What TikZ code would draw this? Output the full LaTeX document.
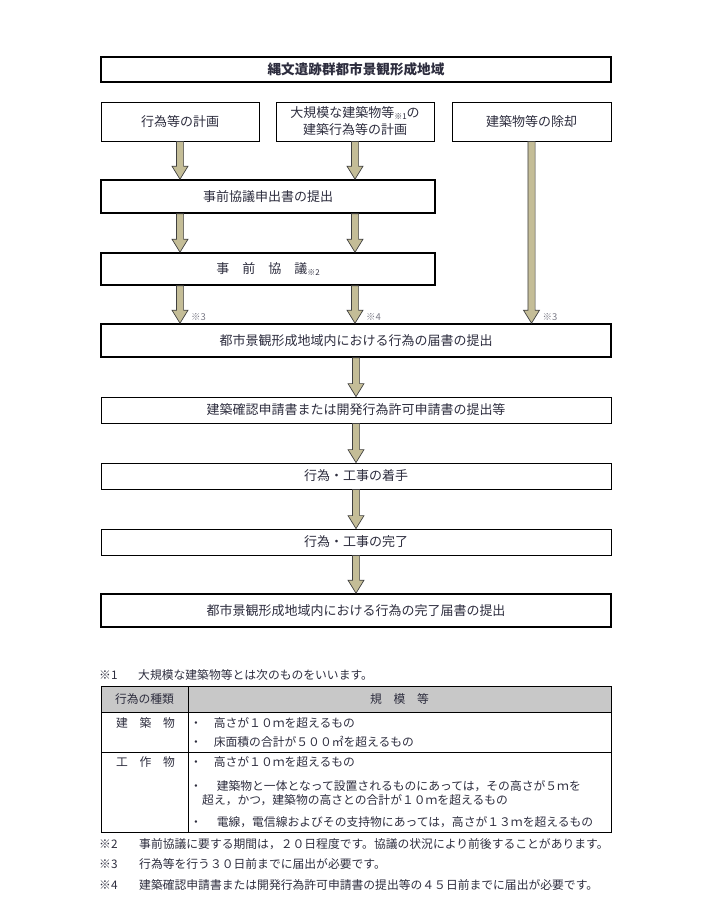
\documentclass[tikz,border=0pt]{standalone}
\usepackage{fontspec}
\usepackage{tikz}
\usetikzlibrary{calc}
\newfontfamily\jpfont{Noto Sans CJK JP}
\definecolor{inkcol}{RGB}{45,45,62}
\definecolor{markcol}{RGB}{120,120,132}
\definecolor{arrowfill}{RGB}{196,189,151}
\definecolor{headgray}{RGB}{200,200,200}
\newcommand{\boxfont}{\jpfont\fontsize{13}{17}\selectfont}
\newcommand{\tabfont}{\jpfont\fontsize{11.8}{14}\selectfont}
\newcommand{\smallmark}[1]{\raisebox{-2pt}{\fontsize{8}{8}\selectfont #1}}
\newcommand{\fatarrow}[2]{\draw[fatarrow] let \p1=#1, \p2=#2 in
  (\x1-3.6pt,\y1) -- (\x1-3.6pt,\y2+13pt) -- (\x1-8pt,\y2+13pt) -- (\x1,\y2)
  -- (\x1+8pt,\y2+13pt) -- (\x1+3.6pt,\y2+13pt) -- (\x1+3.6pt,\y1) -- cycle;}

\begin{document}
\begin{tikzpicture}[x=1pt,y=-1pt]
\tikzstyle{every node}+=[inner sep=0pt, text=inkcol, font=\boxfont]
\tikzstyle{thinbox}=[draw=black, line width=0.8pt]
\tikzstyle{thickbox}=[draw=black, line width=1.6pt]
\tikzstyle{fatarrow}=[draw=black!75, fill=arrowfill, line width=0.7pt, line join=miter]
\tikzstyle{marklbl}=[anchor=west, text=markcol, font=\jpfont\fontsize{9.5}{10}\selectfont]
\tikzstyle{tabtext}=[font=\tabfont]
\useasboundingbox (0,0) rectangle (720,919);
\node [thickbox, minimum width=510pt, minimum height=25pt, font=\jpfont\fontsize{13.6}{17}\selectfont\bfseries] (title) at (356,69.5) {縄文遺跡群都市景観形成地域};
\node [thinbox, minimum width=158pt, minimum height=39pt] (plan) at (180,121.5) {行為等の計画};
\node [thinbox, minimum width=158pt, minimum height=39pt, align=center] (big) at (355,121.5) {大規模な建築物等\smallmark{※1}の\\建築行為等の計画};
\node [thinbox, minimum width=159pt, minimum height=39pt] (demol) at (531.5,121.5) {建築物等の除却};
\node [thickbox, minimum width=334pt, minimum height=33pt] (apply) at (268,196.5) {事前協議申出書の提出};
\node [thickbox, minimum width=334pt, minimum height=32pt] (consult) at (268,269) {事　前　協　議\smallmark{※2}};
\node [thickbox, minimum width=510pt, minimum height=33pt] (notify) at (356,340.5) {都市景観形成地域内における行為の届書の提出};
\node [thinbox, minimum width=510pt, minimum height=26pt] (confirm) at (356,410) {建築確認申請書または開発行為許可申請書の提出等};
\node [thinbox, minimum width=510pt, minimum height=26pt] (start) at (356,476) {行為・工事の着手};
\node [thinbox, minimum width=510pt, minimum height=26pt] (finish) at (356,542) {行為・工事の完了};
\node [thickbox, minimum width=510pt, minimum height=33pt] (report) at (356,610.5) {都市景観形成地域内における行為の完了届書の提出};
\fatarrow{(plan.south)}{(plan.south |- apply.north)}
\fatarrow{(big.south)}{(big.south |- apply.north)}
\fatarrow{(plan.south |- apply.south)}{(plan.south |- consult.north)}
\fatarrow{(big.south |- apply.south)}{(big.south |- consult.north)}
\fatarrow{(plan.south |- consult.south)}{(plan.south |- notify.north)}
\fatarrow{(big.south |- consult.south)}{(big.south |- notify.north)}
\fatarrow{(demol.south)}{(demol.south |- notify.north)}
\fatarrow{(notify.south)}{(confirm.north)}
\fatarrow{(confirm.south)}{(start.north)}
\fatarrow{(start.south)}{(finish.north)}
\fatarrow{(finish.south)}{(report.north)}
\node [marklbl] (mka) at ([xshift=11pt,yshift=6pt]plan.south |- notify.north) {※3};
\node [marklbl] (mkb) at ([xshift=11pt,yshift=6pt]big.south |- notify.north) {※4};
\node [marklbl] (mkc) at ([xshift=11pt,yshift=6pt]demol.south |- notify.north) {※3};
\node [tabtext, anchor=west] (n1m) at (99,675) {※1};
\node [tabtext, anchor=west] (n1) at (138,675) {大規模な建築物等とは次のものをいいます。};
\fill [headgray] (101,686) rectangle (611,712);
\draw [line width=1pt] (101,686) rectangle (611,832);
\draw [line width=0.8pt] (101,712) -- (611,712);
\draw [line width=0.8pt] (101,752) -- (611,752);
\draw [line width=0.8pt] (188,686) -- (188,832);
\node [tabtext] (hkind) at (144.5,699) {行為の種類};
\node [tabtext] (hscale) at (399.5,699) {規　模　等};
\node [tabtext] (kbld) at (145.5,723) {建　築　物};
\node [tabtext, anchor=west] (ba) at (190,723) {・　高さが１０ｍを超えるもの};
\node [tabtext, anchor=west] (bb) at (190,742) {・　床面積の合計が５００㎡を超えるもの};
\node [tabtext] (kstr) at (145.5,762) {工　作　物};
\node [tabtext, anchor=west] (bc) at (190,762) {・　高さが１０ｍを超えるもの};
\node [tabtext, anchor=west] (bd) at (190,786) {・　\hspace{3pt}建築物と一体となって設置されるものにあっては，その高さが５ｍを};
\node [tabtext, anchor=west] (bdx) at (202,800) {超え，かつ，建築物の高さとの合計が１０ｍを超えるもの};
\node [tabtext, anchor=west] (be) at (190,822) {・　\hspace{3pt}電線，電信線およびその支持物にあっては，高さが１３ｍを超えるもの};
\node [tabtext, anchor=west] (n2m) at (99,844) {※2};
\node [tabtext, anchor=west] (n2) at (139,844) {事前協議に要する期間は，２０日程度です。協議の状況により前後することがあります。};
\node [tabtext, anchor=west] (n3m) at (99,864) {※3};
\node [tabtext, anchor=west] (n3) at (139,864) {行為等を行う３０日前までに届出が必要です。};
\node [tabtext, anchor=west] (n4m) at (99,885) {※4};
\node [tabtext, anchor=west] (n4) at (139,885) {建築確認申請書または開発行為許可申請書の提出等の４５日前までに届出が必要です。};
\end{tikzpicture}
\end{document}
